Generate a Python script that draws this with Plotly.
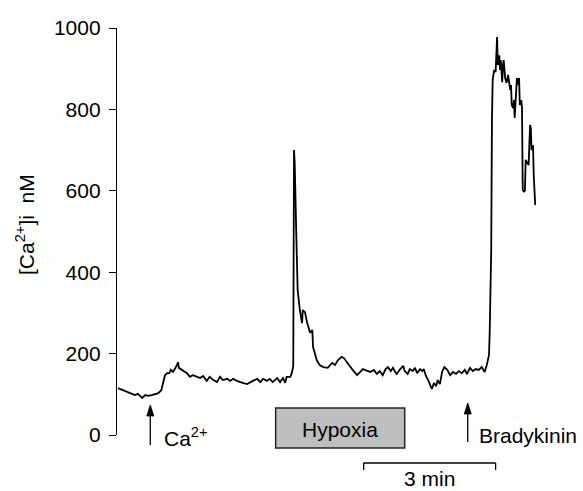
import plotly.graph_objects as go

# time (s) and [Ca2+]i (nM)
time_s = [0, 7, 14, 19, 23, 27, 33, 37, 41, 46, 50, 55, 59, 61, 64, 67, 70, 72, 75, 79,
          82, 83, 87, 90, 94, 98, 102, 108, 112, 116, 121, 125, 130, 135, 139, 143, 149, 153, 157, 162,
          166, 170, 176, 180, 184, 190, 194, 198, 203, 207, 211, 217, 221, 225, 228, 230, 235, 237, 239, 240,
          241, 243, 244, 245, 248, 251, 252, 255, 258, 259, 262, 265, 266, 271, 275, 280, 286, 292, 296, 300,
          305, 308, 312, 316, 320, 326, 330, 334, 341, 344, 349, 353, 357, 361, 365, 368, 372, 375, 378, 380,
          385, 389, 391, 395, 398, 402, 405, 408, 412, 415, 417, 420, 423, 425, 428, 431, 434, 436, 439, 442,
          445, 449, 453, 457, 461, 465, 469, 473, 476, 480, 484, 488, 492, 496, 500, 503, 506, 507, 509, 510,
          511, 513, 515, 517, 518, 520, 521, 522, 524, 525, 526, 528, 530, 532, 533, 535, 536, 537, 539, 540,
          541, 543, 544, 545, 547, 548, 550, 551, 552, 554, 555, 556, 558, 560, 562, 563, 564, 566, 567, 569]
ca_nM = [115, 110, 106, 101, 98, 101, 91, 98, 96, 98, 101, 103, 110, 128, 147, 152, 152, 160, 155, 167,
         179, 165, 160, 155, 152, 143, 147, 143, 140, 145, 133, 143, 135, 130, 143, 135, 138, 133, 138, 133,
         130, 128, 125, 130, 133, 138, 130, 138, 133, 138, 130, 140, 130, 140, 128, 143, 143, 152, 170, 700,
         668, 504, 405, 356, 307, 275, 307, 302, 275, 270, 251, 258, 216, 184, 172, 167, 165, 177, 172, 184,
         192, 189, 179, 167, 160, 147, 155, 162, 157, 155, 160, 150, 157, 147, 162, 167, 157, 165, 155, 150,
         162, 170, 157, 150, 162, 157, 165, 152, 162, 157, 162, 145, 135, 125, 113, 128, 120, 135, 125, 155,
         167, 160, 147, 155, 150, 157, 152, 160, 150, 165, 157, 162, 160, 167, 155, 172, 197, 258, 455, 774,
         872, 897, 892, 978, 909, 933, 897, 921, 867, 909, 921, 877, 865, 885, 867, 848, 860, 811, 803, 823,
         779, 872, 877, 860, 877, 811, 823, 803, 602, 597, 602, 676, 668, 663, 762, 754, 700, 712, 639, 565]

y_ticks = [0, 200, 400, 600, 800, 1000]

# event markers (s)
ca_added_s = 44
hypoxia_start_s = 215
hypoxia_end_s = 391
bradykinin_s = 477
scale_start_s = 335
scale_len_s = 180

FONT = "Liberation Sans, Arial, sans-serif"
FS = 21

fig = go.Figure()
fig.add_trace(go.Scatter(x=time_s, y=ca_nM, mode="lines",
                         line=dict(color="black", width=1.8), showlegend=False,
                         hoverinfo="skip"))

fig.update_layout(
    width=583, height=491,
    margin=dict(l=117, r=6, t=28, b=56),
    paper_bgcolor="white", plot_bgcolor="white",
    font=dict(family=FONT, size=FS, color="black"),
    xaxis=dict(visible=False, range=[-1.4, 626]),
    yaxis=dict(range=[0, 1000], tickvals=y_ticks, ticks="outside", ticklen=7,
               tickwidth=1.2, tickcolor="black", showline=True, linecolor="black",
               linewidth=1.4, showgrid=False, zeroline=False,
               ticklabelstandoff=4,
               tickfont=dict(family=FONT, size=FS, color="black")),
)

def py(p):
    return (435 - p) / 407.0

shapes = []
# hypoxia box
shapes.append(dict(type="rect", xref="x", yref="paper",
                   x0=hypoxia_start_s, x1=hypoxia_end_s, y0=py(448), y1=py(408),
                   fillcolor="#BEBEBE", line=dict(color="#222222", width=1.5), layer="above"))
# scale bar
sb0, sb1 = scale_start_s, scale_start_s + scale_len_s
shapes.append(dict(type="line", xref="x", yref="paper", x0=sb0, x1=sb1, y0=py(463), y1=py(463),
                   line=dict(color="black", width=1.3)))
shapes.append(dict(type="line", xref="x", yref="paper", x0=sb0, x1=sb0, y0=py(463), y1=py(470),
                   line=dict(color="black", width=1.3)))
shapes.append(dict(type="line", xref="x", yref="paper", x0=sb1, x1=sb1, y0=py(463), y1=py(470),
                   line=dict(color="black", width=1.3)))

# event arrows (line + filled head)
def arrow(t, tip_px, tail_px):
    hw = 4.8  # half head width in s (~3.5 px)
    shapes.append(dict(type="line", xref="x", yref="paper", x0=t, x1=t,
                       y0=py(tail_px), y1=py(tip_px + 8), line=dict(color="black", width=1.3)))
    path = "M {a},{b} L {c},{d} L {e},{d} Z".format(
        a=t, b=py(tip_px), c=t - hw, d=py(tip_px + 11), e=t + hw)
    shapes.append(dict(type="path", xref="x", yref="paper", path=path,
                       fillcolor="black", line=dict(color="black", width=0.8)))

arrow(ca_added_s, 405, 445)
arrow(bradykinin_s, 403, 442)
fig.update_layout(shapes=shapes)

ann = []
ann.append(dict(x=ca_added_s + 16, y=py(437), xref="x", yref="paper", text="Ca<sup>2+</sup>",
                showarrow=False, xanchor="left", yanchor="middle"))
ann.append(dict(x=bradykinin_s + 13, y=py(435), xref="x", yref="paper", text="Bradykinin",
                showarrow=False, xanchor="left", yanchor="middle"))
ann.append(dict(x=(hypoxia_start_s + hypoxia_end_s) / 2, y=py(429), xref="x", yref="paper",
                text="Hypoxia", showarrow=False, xanchor="center", yanchor="middle"))
ann.append(dict(x=(sb0 + sb1) / 2, y=py(478), xref="x", yref="paper", text="3 min",
                showarrow=False, xanchor="center", yanchor="middle"))
ann.append(dict(x=(25 - 117) / 460.0, y=py(225), xref="paper", yref="paper",
                text="[Ca<sup>2+</sup>]i  nM", textangle=-90, showarrow=False,
                xanchor="center", yanchor="middle"))
fig.update_layout(annotations=ann)

fig.write_html("out.html")
